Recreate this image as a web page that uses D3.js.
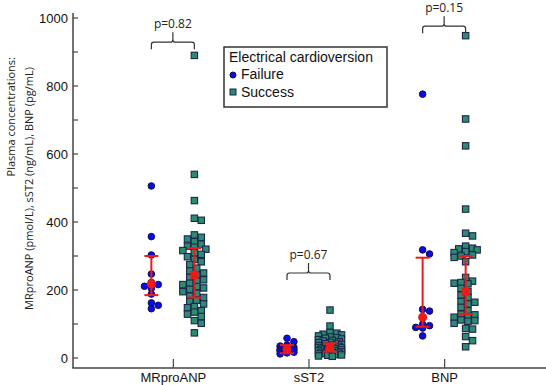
<!DOCTYPE html>
<html>
<head>
<meta charset="utf-8">
<script src="https://cdn.jsdelivr.net/npm/d3@7"></script>
<style>
html,body{margin:0;padding:0;background:#fff;}
svg{display:block;}
</style>
</head>
<body>
<svg id="chart" width="546" height="385"></svg>
<script>
// ---------- DATA ----------
const categories = ["MRproANP", "sST2", "BNP"];
const groups = ["Failure", "Success"];
const legendTitle = "Electrical cardioversion";
const yTicks = [0, 200, 400, 600, 800, 1000];

const failureMRproANP = [506, 357, 303, 247, 222, 216, 211, 205, 188, 162, 155, 145];
const successMRproANP = [890, 540, 463, 411, 405, 362, 355, 350, 342, 335, 329, 326, 320, 316, 310, 305, 298, 290, 283, 275, 264, 256, 250, 244, 237, 230, 227, 220, 216, 210, 206, 202, 195, 190, 182, 178, 170, 166, 159, 151, 148, 139, 135, 129, 122, 110, 102, 74];
const failureSST2 = [58, 48, 38, 35, 31, 28, 26, 24, 22, 20, 17, 15, 12];
const successSST2 = [141, 94, 75, 73, 70, 68, 65, 62, 60, 58, 56, 54, 52, 50, 48, 46, 45, 43, 42, 40, 38, 37, 35, 34, 32, 31, 30, 28, 27, 26, 25, 24, 22, 21, 20, 18, 17, 16, 14, 13, 12, 10, 9, 8, 6, 5];
const failureBNP = [776, 318, 306, 143, 138, 120, 99, 95, 90, 88, 65];
const successBNP = [948, 703, 624, 438, 367, 359, 329, 323, 321, 318, 313, 310, 303, 300, 296, 283, 237, 226, 222, 220, 218, 205, 195, 185, 178, 166, 164, 159, 149, 139, 129, 127, 122, 120, 112, 110, 108, 102, 87, 85, 63, 51, 33];

// central value and interval (red markers)
const failureCenter = [218, 26, 120];
const failureLow = [185, 14, 92];
const failureHigh = [300, 38, 295];
const successCenter = [244, 31, 195];
const successLow = [178, 19, 129];
const successHigh = [323, 43, 300];

// p-value annotations
const pLabels = ["p=0.82", "p=0.67", "p=0.15"];
const bracketLevel = [929, 250, 976];

// ---------- LAYOUT ----------
const svg = d3.select("#chart");
const W = 546, H = 385;
const axisX = 73, axisY = 368;
const y = d3.scaleLinear().domain([0, 1000]).range([358, 18]);
const x = d3.scalePoint().domain(categories).range([73, 545]).padding(0.74);
const groupOffset = d3.scaleOrdinal().domain(groups).range([-22, 21]);

const pointsByCat = {
  "MRproANP": {Failure: failureMRproANP, Success: successMRproANP},
  "sST2": {Failure: failureSST2, Success: successSST2},
  "BNP": {Failure: failureBNP, Success: successBNP}
};

const RED = "#ee1a1a";
const fontArial = "'Liberation Sans', Arial, sans-serif";
const fontSeg = "'Open Sans', 'Noto Sans', sans-serif";

// simple deterministic beeswarm, capped width (overlap allowed when crowded)
function swarm(values, cx, d, maxOff) {
  const sorted = values.map((v, i) => ({v, i})).sort((a, b) => b.v - a.v);
  const placed = [];
  const cands = [0];
  for (let k = 1; k * 2.3 <= maxOff; k++) { cands.push(k * 2.3); cands.push(-k * 2.3); }
  sorted.forEach(p => {
    const py = y(p.v);
    let best = 0, bestScore = Infinity;
    for (const c of cands) {
      let score = 0;
      placed.forEach(q => {
        const oy = d * 0.75 - Math.abs(q.y - py), ox = d * 0.9 - Math.abs(q.dx - c);
        if (oy > 0 && ox > 0) score += oy * ox;
      });
      score += Math.abs(c) * 0.01;
      if (score < bestScore - 1e-9) { bestScore = score; best = c; }
      if (score < 0.5) break;
    }
    placed.push({y: py, dx: best, v: p.v});
  });
  return placed.map(p => ({x: cx + p.dx, y: p.y, v: p.v}));
}

// ---------- AXES ----------
const gy = svg.append("g").attr("transform", `translate(${axisX},0)`);
gy.append("line").attr("x1", 0).attr("x2", 0).attr("y1", 13).attr("y2", axisY)
  .attr("stroke", "#444").attr("stroke-width", 1.5);
const minor = d3.range(0, 1001, 100);
gy.selectAll("line.tk").data(minor).join("line").attr("class", "tk")
  .attr("x1", 0).attr("x2", 5).attr("y1", d => y(d)).attr("y2", d => y(d))
  .attr("stroke", "#444").attr("stroke-width", 1.2);
gy.selectAll("text").data(yTicks).join("text")
  .attr("x", -5).attr("y", d => y(d)).attr("dy", "0.35em")
  .attr("text-anchor", "end").attr("font-family", fontArial).attr("font-size", 13)
  .attr("fill", "#111").text(d => d);

const gx = svg.append("g");
gx.append("line").attr("x1", axisX - 0.75).attr("x2", W).attr("y1", axisY).attr("y2", axisY)
  .attr("stroke", "#444").attr("stroke-width", 1.5);
gx.selectAll("line.tk").data(categories).join("line").attr("class", "tk")
  .attr("x1", d => x(d)).attr("x2", d => x(d)).attr("y1", axisY).attr("y2", axisY - 9)
  .attr("stroke", "#444").attr("stroke-width", 1.2);
gx.selectAll("text").data(categories).join("text")
  .attr("x", d => x(d)).attr("y", 382)
  .attr("text-anchor", "middle").attr("font-family", fontArial).attr("font-size", 13)
  .attr("fill", "#111").text(d => d);

// y title (two lines)
svg.append("text").attr("transform", "translate(15,57) rotate(-90)")
  .attr("text-anchor", "end").attr("font-family", fontSeg).attr("font-size", 11)
  .attr("fill", "#222").text("Plasma concentrations:");
svg.append("text").attr("transform", "translate(33,67) rotate(-90)")
  .attr("text-anchor", "end").attr("font-family", fontSeg).attr("font-size", 11)
  .attr("fill", "#222").text("MRproANP (pmol/L), sST2 (ng/mL), BNP (pg/mL)");

// ---------- POINTS ----------
const plot = svg.append("g");
categories.forEach(cat => {
  const fx = x(cat) + groupOffset("Failure");
  const sx = x(cat) + groupOffset("Success");
  const fp = swarm(pointsByCat[cat].Failure, fx, 7, 9);
  const sp = swarm(pointsByCat[cat].Success, sx, 7, 12);
  plot.append("g").selectAll("circle").data(fp).join("circle")
    .attr("cx", d => d.x).attr("cy", d => d.y).attr("r", 3.3)
    .attr("fill", "#0a0aee").attr("stroke", "#10104a").attr("stroke-width", 1);
  plot.append("g").selectAll("rect").data(sp).join("rect")
    .attr("x", d => d.x - 3.2).attr("y", d => d.y - 3.2).attr("width", 6.4).attr("height", 6.4)
    .attr("fill", "#2e8b70").attr("stroke", "#1b2550").attr("stroke-width", 1.1);
});

// ---------- RED SUMMARY ----------
const red = svg.append("g");
categories.forEach((cat, i) => {
  const specs = [
    {g: "Failure", c: failureCenter[i], lo: failureLow[i], hi: failureHigh[i]},
    {g: "Success", c: successCenter[i], lo: successLow[i], hi: successHigh[i]}
  ];
  specs.forEach(s => {
    const cx = x(cat) + groupOffset(s.g);
    red.append("line").attr("x1", cx).attr("x2", cx).attr("y1", y(s.hi)).attr("y2", y(s.lo))
      .attr("stroke", RED).attr("stroke-width", 2);
    [s.hi, s.lo].forEach(v => red.append("line")
      .attr("x1", cx - 7).attr("x2", cx + 7).attr("y1", y(v)).attr("y2", y(v))
      .attr("stroke", RED).attr("stroke-width", 2));
    if (s.g === "Failure") {
      red.append("circle").attr("cx", cx).attr("cy", y(s.c)).attr("r", 4.5).attr("fill", RED);
    } else {
      red.append("rect").attr("x", cx - 4).attr("y", y(s.c) - 4).attr("width", 8).attr("height", 8).attr("fill", RED);
    }
  });
});

// ---------- P-VALUE BRACKETS ----------
const ann = svg.append("g");
categories.forEach((cat, i) => {
  const x1 = x(cat) + groupOffset("Failure"), x2 = x(cat) + groupOffset("Success");
  const xm = (x1 + x2) / 2;
  const by = y(bracketLevel[i]);
  const r = 2.5;
  const path = `M${x1},${by + 7} L${x1},${by + r} Q${x1},${by} ${x1 + r},${by} L${xm - r},${by} Q${xm},${by} ${xm},${by - r} L${xm},${by - 10} M${xm},${by - r} Q${xm},${by} ${xm + r},${by} L${x2 - r},${by} Q${x2},${by} ${x2},${by + r} L${x2},${by + 7}`;
  ann.append("path").attr("d", path).attr("fill", "none").attr("stroke", "#333").attr("stroke-width", 1.2);
  ann.append("text").attr("x", xm).attr("y", by - 14)
    .attr("text-anchor", "middle").attr("font-family", fontSeg).attr("font-size", 12)
    .attr("fill", "#222").text(pLabels[i]);
});

// ---------- LEGEND ----------
const lg = svg.append("g");
lg.append("rect").attr("x", 224).attr("y", 47).attr("width", 163).attr("height", 60)
  .attr("fill", "#fff").attr("stroke", "#333").attr("stroke-width", 1.5);
lg.append("text").attr("x", 229).attr("y", 62).attr("font-family", fontArial).attr("font-size", 14)
  .attr("fill", "#111").text(legendTitle);
lg.append("circle").attr("cx", 233).attr("cy", 75).attr("r", 3)
  .attr("fill", "#0a0aee").attr("stroke", "#10104a").attr("stroke-width", 1);
lg.append("rect").attr("x", 230).attr("y", 89).attr("width", 6).attr("height", 6)
  .attr("fill", "#2e8b70").attr("stroke", "#1b2550").attr("stroke-width", 1);
lg.append("text").attr("x", 241).attr("y", 79).attr("font-family", fontArial).attr("font-size", 14)
  .attr("fill", "#111").text(groups[0]);
lg.append("text").attr("x", 241).attr("y", 97).attr("font-family", fontArial).attr("font-size", 14)
  .attr("fill", "#111").text(groups[1]);
</script>
</body>
</html>
